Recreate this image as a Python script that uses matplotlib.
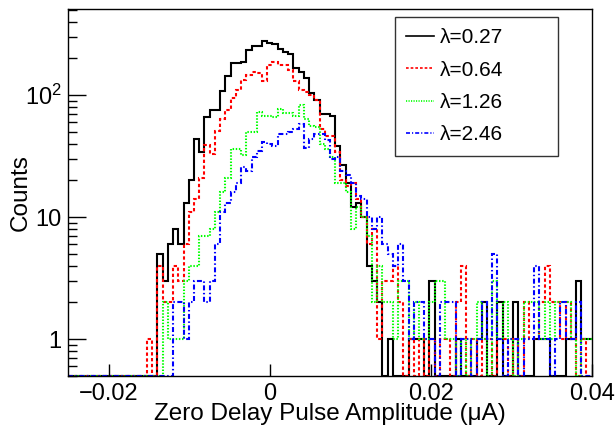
import numpy as np
import matplotlib
matplotlib.use('Agg')
from matplotlib import pyplot as plt
from matplotlib.ticker import FixedLocator, FixedFormatter, NullFormatter, NullLocator

# histogram range and binning (100 bins)
x_min, x_max = -0.025, 0.04
n_bins = 100

# counts per bin
counts_027 = [0, 0, 0, 0, 0, 0, 0, 0, 0, 0,
              0, 0, 0, 0, 0, 0, 0, 5, 3, 6,
              8, 6, 13, 20, 44, 34, 66, 75, 75, 108,
              144, 184, 182, 187, 233, 252, 250, 277, 268, 262,
              240, 226, 219, 168, 155, 139, 104, 91, 70, 70,
              68, 38, 27, 19, 12, 13, 10, 4, 3, 2,
              0, 1, 0, 0, 0, 1, 1, 1, 0, 3,
              0, 0, 0, 0, 1, 0, 0, 0, 1, 2,
              0, 0, 2, 0, 0, 2, 0, 0, 0, 1,
              1, 1, 0, 0, 0, 1, 1, 3, 1, 1]

counts_064 = [0, 0, 0, 0, 0, 0, 0, 0, 0, 0,
              0, 0, 0, 0, 0, 1, 0, 4, 2, 2,
              4, 3, 6, 11, 14, 21, 39, 33, 51, 64,
              76, 95, 110, 134, 145, 155, 153, 131, 177, 187,
              177, 177, 160, 131, 110, 106, 100, 91, 53, 46,
              46, 34, 20, 18, 19, 14, 10, 6, 8, 1,
              3, 3, 4, 2, 0, 1, 0, 1, 0, 1,
              0, 1, 1, 0, 2, 4, 0, 1, 0, 1,
              1, 0, 1, 1, 0, 1, 0, 2, 1, 1,
              2, 4, 2, 2, 1, 2, 1, 0, 1, 0]

counts_126 = [0, 0, 0, 0, 0, 0, 0, 0, 0, 0,
              0, 0, 0, 0, 0, 0, 0, 0, 2, 1,
              1, 1, 3, 4, 4, 7, 7, 8, 11, 16,
              21, 36, 36, 32, 50, 50, 73, 68, 67, 66,
              77, 71, 71, 68, 83, 64, 56, 55, 40, 36,
              31, 19, 19, 16, 8, 12, 10, 7, 2, 4,
              2, 2, 1, 3, 3, 1, 2, 1, 1, 2,
              3, 3, 1, 1, 0, 1, 0, 1, 2, 1,
              0, 3, 1, 2, 1, 0, 1, 2, 2, 2,
              1, 2, 1, 2, 2, 2, 1, 0, 1, 1]

counts_246 = [0, 0, 0, 0, 0, 0, 0, 0, 0, 0,
              0, 0, 0, 0, 0, 0, 0, 0, 0, 0,
              2, 2, 1, 2, 3, 3, 2, 3, 6, 11,
              13, 16, 19, 26, 24, 31, 35, 41, 40, 38,
              48, 48, 50, 53, 58, 37, 44, 48, 48, 43,
              30, 31, 24, 22, 19, 15, 14, 10, 8, 10,
              6, 5, 4, 6, 3, 1, 2, 2, 1, 1,
              0, 2, 2, 2, 0, 1, 1, 0, 1, 2,
              1, 5, 1, 0, 1, 1, 0, 1, 1, 4,
              1, 1, 0, 1, 2, 1, 1, 2, 0, 0]

labels = ['λ=0.27', 'λ=0.64', 'λ=1.26', 'λ=2.46']
colors = ['black', '#ff0000', '#00ff00', '#0000ff']
styles = ['-', (0, (1.6, 1.2)), (0, (0.7, 0.8)), (0, (2.4, 1.2, 0.7, 1.2))]

x_ticks = [-0.02, 0, 0.02, 0.04]
x_tick_labels = ['\u22120.02', '0', '0.02', '0.04']
y_ticks = [1, 10, 100]
y_tick_labels = ['1', '10', r'$\mathregular{10^{2}}$']

y_min, y_max = 0.5, 507

plt.rcParams['font.family'] = ['Liberation Sans', 'DejaVu Sans']

fig = plt.figure(figsize=(6.16, 4.25), dpi=100)
ax = fig.add_axes([0.111, 0.1153, 0.8495, 0.8635])

edges = np.linspace(x_min, x_max, n_bins + 1)
allCounts = [counts_027, counts_064, counts_126, counts_246]
for counts, color, ls, label in zip(allCounts, colors, styles, labels):
    # empty bins sit on the bottom of the frame, like ROOT draws them
    vals = np.clip(np.array(counts, dtype=float), y_min, None)
    ax.stairs(vals, edges, baseline=None, color=color, linestyle=ls,
              linewidth=1.5, label=label)

ax.set_yscale('log')
ax.set_xlim(x_min, x_max)
ax.set_ylim(y_min, y_max)

# ticks: ROOT style, inside, bottom/left only
ax.xaxis.set_major_locator(FixedLocator(x_ticks))
ax.xaxis.set_major_formatter(FixedFormatter(x_tick_labels))
ax.xaxis.set_minor_locator(NullLocator())
ax.yaxis.set_major_locator(FixedLocator(y_ticks))
ax.yaxis.set_major_formatter(FixedFormatter(y_tick_labels))
ax.yaxis.set_minor_formatter(NullFormatter())
ax.tick_params(axis='both', which='major', direction='in', labelsize=17,
               width=1, top=False, right=False)
ax.tick_params(axis='x', which='major', length=8.5, pad=5)
ax.tick_params(axis='y', which='major', length=13, pad=5)
ax.tick_params(axis='y', which='minor', direction='in', length=6.5, width=1, right=False)
for spine in ax.spines.values():
    spine.set_linewidth(1)

ax.set_xlabel('Zero Delay Pulse Amplitude (μA)', fontsize=17.5, labelpad=-1.5)
ax.set_ylabel('Counts', fontsize=17.5)
ax.yaxis.set_label_coords(-0.0694, 0.5)

leg = ax.legend(loc='upper left', bbox_to_anchor=(0.6242, 0.979, 0.3114, 0.0),
                mode='expand', fontsize=15, frameon=True, fancybox=False,
                edgecolor='black', handlelength=1.3, handletextpad=0.3,
                labelspacing=0.64, borderpad=0.55, borderaxespad=0)
leg.get_frame().set_linewidth(1)
for h in leg.legend_handles:
    h.set_linewidth(1.2)

fig.savefig('out.png', dpi=100)
